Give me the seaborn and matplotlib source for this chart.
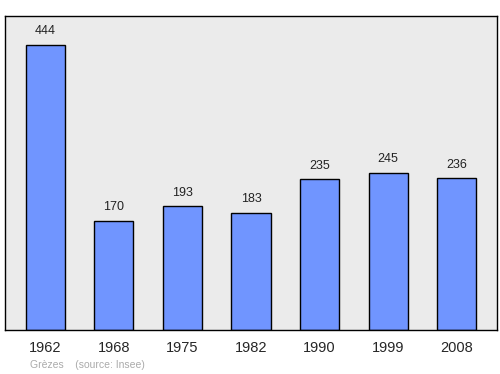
import matplotlib
matplotlib.use("Agg")
import matplotlib.pyplot as plt
import seaborn as sns
import pandas as pd

years = ["1962", "1968", "1975", "1982", "1990", "1999", "2008"]
population = [444, 170, 193, 183, 235, 245, 236]
commune = "Grèzes"
source = "(source: Insee)"

df = pd.DataFrame({"year": years, "pop": population})

sns.set_style("white")
plt.rcParams["font.family"] = ["Liberation Sans", "DejaVu Sans"]

fig = plt.figure(figsize=(5.0, 3.74), dpi=100)
ax = fig.add_axes([0.01, 0.1176, 0.984, 0.8396])
ax.set_facecolor("#ebebeb")

sns.barplot(data=df, x="year", y="pop", ax=ax, color="#7095ff",
            edgecolor="black", linewidth=1.0, width=0.57, saturation=1)

for i, v in enumerate(population):
    ax.text(i, v + 21, str(v), ha="center", va="center", fontsize=9, color="#222222")

ax.set_xlim(-0.59, 6.59)
ax.set_ylim(0, 489)
ax.set_yticks([])
ax.set_xlabel("")
ax.set_ylabel("")
ax.tick_params(axis="x", length=0, labelsize=10.5, pad=8)
for s in ax.spines.values():
    s.set_color("black")
    s.set_linewidth(1.0)

fig.text(0.061, 0.024, commune + "    " + source, fontsize=7.5, color="#aaaaaa",
         ha="left", va="center")

fig.savefig("out.png", dpi=100)
